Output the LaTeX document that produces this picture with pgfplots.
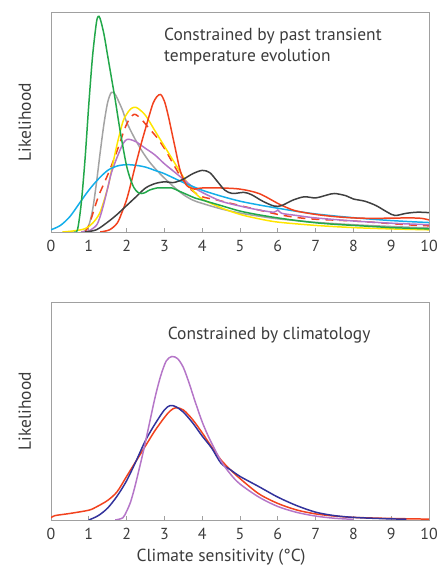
\documentclass[border=0pt]{standalone}
\usepackage{fontspec}
\setmainfont{PT Sans}
\usepackage{pgfplots}
\pgfplotsset{compat=1.18}

\definecolor{cgreen}{HTML}{22A84A}
\definecolor{clgray}{HTML}{A3A3A3}
\definecolor{cdgray}{HTML}{404040}
\definecolor{cyellow}{HTML}{FFE500}
\definecolor{cred}{HTML}{F2421E}
\definecolor{cpurple}{HTML}{B576C8}
\definecolor{ccyan}{HTML}{13AEEA}
\definecolor{cnavy}{HTML}{33339C}
\definecolor{ctext}{HTML}{3C3C3C}
\definecolor{cframe}{HTML}{A0A0A0}

\pgfplotsset{
  panel/.style={
    scale only axis,
    width=378bp,
    xmin=0, xmax=10, ymin=0, ymax=1,
    xtick={0,1,...,10},
    ytick=\empty,
    axis line style={cframe, line width=0.9pt},
    tick style={cframe, line width=0.7pt},
    tick align=inside,
    major tick length=3.5bp,
    xtick pos=bottom,
    /pgf/number format/assume math mode=true,
    tick label style={font=\fontsize{16}{19}\selectfont, text=ctext},
    xticklabel style={yshift=-5bp},
    label style={font=\fontsize{17.5}{21}\selectfont, text=ctext},
    ylabel={Likelihood},
    ylabel style={at={(axis description cs:-0.069,0.5)}, anchor=center},
    every axis plot/.append style={line width=1.5pt, smooth, no marks},
  }
}

\begin{document}
\begin{tikzpicture}
\begin{axis}[panel, height=220bp, at={(51bp,343bp)}, anchor=south west]

% hellgrau
\addplot[clgray] coordinates {
(0.8,0) (0.9,0.005) (1.0,0.03) (1.1,0.1) (1.2,0.22) (1.3,0.36) (1.4,0.49) (1.5,0.59)
(1.6,0.635) (1.7,0.625) (1.8,0.59) (1.9,0.55) (2.0,0.5) (2.2,0.43) (2.4,0.37) (2.6,0.32)
(2.8,0.28) (3.0,0.245) (3.25,0.205) (3.5,0.17) (3.75,0.145) (4.0,0.13) (4.5,0.105)
(5.0,0.086) (5.5,0.072) (6.0,0.06) (7.0,0.044) (8.0,0.033) (9.0,0.025) (10.0,0.018)
};

% rot gestrichelt
\addplot[cred, dash pattern=on 8pt off 6pt] coordinates {
(0.9,0) (1.0,0.03) (1.1,0.08) (1.25,0.16) (1.4,0.22) (1.55,0.28) (1.75,0.37) (2.0,0.49)
(2.2,0.535) (2.4,0.51) (2.6,0.47) (2.8,0.43) (3.0,0.38) (3.2,0.32) (3.4,0.26) (3.6,0.21)
(3.8,0.18) (4.0,0.16) (4.4,0.145) (5.0,0.12) (5.5,0.1) (6.0,0.08) (6.5,0.066)
(7.0,0.058) (8.0,0.05) (9.0,0.038) (9.5,0.032) (10.0,0.028)
};

% gelb
\addplot[cyellow] coordinates {
(0.3,0) (0.6,0.005) (0.9,0.015) (1.1,0.04) (1.3,0.09) (1.5,0.2) (1.6,0.28) (1.75,0.4)
(1.9,0.5) (2.0,0.535) (2.1,0.558) (2.2,0.567) (2.3,0.562) (2.5,0.53) (2.75,0.46)
(3.0,0.39) (3.25,0.32) (3.5,0.25) (3.75,0.19) (4.0,0.15) (4.5,0.11) (5.0,0.08)
(5.5,0.06) (6.0,0.045) (7.0,0.03) (8.0,0.02) (9.0,0.014) (10.0,0.01)
};

% lila
\addplot[cpurple] coordinates {
(0.8,0) (1.0,0.005) (1.2,0.03) (1.3,0.07) (1.4,0.13) (1.5,0.2) (1.6,0.27) (1.75,0.34)
(1.9,0.4) (2.0,0.42) (2.1,0.42) (2.25,0.41) (2.5,0.38) (2.75,0.35) (3.0,0.31)
(3.25,0.275) (3.5,0.24) (3.75,0.205) (4.0,0.18) (4.5,0.14) (5.0,0.118) (5.5,0.1)
(5.9,0.09) (6.0,0.1) (6.1,0.085) (6.5,0.075) (7.0,0.064) (8.0,0.05) (9.0,0.04) (10.0,0.033)
};

% cyan
\addplot[ccyan] coordinates {
(0,0.01) (0.25,0.03) (0.5,0.07) (0.75,0.13) (1.0,0.19) (1.25,0.24) (1.5,0.28)
(1.75,0.3) (2.0,0.306) (2.25,0.303) (2.5,0.295) (2.75,0.28) (3.0,0.265) (3.5,0.225)
(4.0,0.19) (4.5,0.163) (5.0,0.14) (5.5,0.123) (6.0,0.108) (6.5,0.094) (7.0,0.082)
(7.5,0.073) (8.0,0.065) (8.5,0.058) (9.0,0.052) (9.5,0.047) (10.0,0.043)
};

% rot
\addplot[cred] coordinates {
(1.3,0) (1.55,0.01) (1.75,0.04) (1.87,0.086) (2.0,0.147) (2.1,0.21) (2.2,0.28)
(2.3,0.345) (2.4,0.41) (2.5,0.47) (2.6,0.53) (2.7,0.585) (2.8,0.615) (2.9,0.625)
(3.0,0.595) (3.1,0.53) (3.2,0.45) (3.3,0.37) (3.4,0.29) (3.5,0.24) (3.6,0.21) (3.7,0.2)
(3.8,0.195) (4.0,0.2) (4.5,0.2) (5.0,0.195) (5.5,0.175) (6.0,0.13) (6.25,0.11)
(6.5,0.095) (7.0,0.08) (7.5,0.07) (8.0,0.064) (8.5,0.062) (9.0,0.063) (9.5,0.064)
(9.8,0.062) (10.0,0.055)
};

% dunkelgrau
\addplot[cdgray] coordinates {
(0.9,0) (1.2,0.01) (1.5,0.045) (1.75,0.08) (2.0,0.12) (2.25,0.16) (2.5,0.2)
(2.75,0.22) (3.0,0.228) (3.25,0.225) (3.5,0.24) (3.75,0.265) (4.0,0.28) (4.2,0.27)
(4.4,0.23) (4.6,0.19) (4.8,0.175) (5.1,0.18) (5.3,0.17) (5.6,0.14) (5.9,0.118)
(6.1,0.12) (6.4,0.145) (6.7,0.16) (7.0,0.155) (7.3,0.168) (7.5,0.175) (7.8,0.165)
(8.0,0.15) (8.3,0.14) (8.6,0.12) (8.9,0.09) (9.1,0.075) (9.4,0.085) (9.7,0.09) (10.0,0.088)
};

% gruen
\addplot[cgreen] coordinates {
(0.6,0) (0.7,0.01) (0.8,0.13) (0.9,0.33) (1.0,0.58) (1.1,0.8) (1.2,0.95) (1.25,0.98)
(1.3,0.97) (1.4,0.9) (1.5,0.8) (1.6,0.7) (1.7,0.6) (1.8,0.49) (1.9,0.39) (2.0,0.3)
(2.1,0.24) (2.2,0.2) (2.3,0.18) (2.4,0.175) (2.5,0.18) (2.6,0.19) (2.8,0.2) (3.0,0.2)
(3.2,0.2) (3.4,0.185) (3.6,0.17) (3.8,0.155) (4.0,0.145) (4.5,0.12) (5.0,0.095)
(5.5,0.078) (6.0,0.064) (6.5,0.052) (7.0,0.042) (7.5,0.035) (8.0,0.03) (8.5,0.025)
(9.0,0.02) (9.5,0.017) (10.0,0.014)
};

\node[anchor=north west, align=left, text=ctext, font=\fontsize{17.5}{22}\selectfont,
  inner sep=0pt] at (rel axis cs:0.299,0.93)
  {Constrained by past transient\\temperature evolution};
\end{axis}

\begin{axis}[panel, height=218bp, at={(51bp,55bp)}, anchor=south west,
  xlabel={Climate sensitivity (°C)},
  xlabel style={at={(axis description cs:0.45,0)}, anchor=center, yshift=-37bp}]

% rot
\addplot[cred] coordinates {
(0,0.01) (0.1,0.02) (0.5,0.03) (1.0,0.045) (1.2,0.06) (1.5,0.09) (1.75,0.13)
(2.0,0.2) (2.25,0.27) (2.5,0.34) (2.75,0.41) (3.0,0.47) (3.15,0.5) (3.3,0.515)
(3.5,0.505) (3.75,0.46) (4.0,0.4) (4.25,0.335) (4.5,0.275) (4.75,0.23) (5.0,0.19)
(5.5,0.12) (6.0,0.076) (6.5,0.046) (7.0,0.028) (7.5,0.018) (8.0,0.012) (9.0,0.007) (10.0,0.004)
};

% blau
\addplot[cnavy] coordinates {
(1.0,0) (1.25,0.02) (1.5,0.055) (1.75,0.11) (2.0,0.18) (2.25,0.27) (2.5,0.365)
(2.75,0.44) (3.0,0.505) (3.15,0.525) (3.3,0.52) (3.5,0.495) (3.75,0.445) (4.0,0.385)
(4.25,0.33) (4.5,0.26) (4.75,0.23) (5.0,0.2) (5.5,0.153) (6.0,0.105) (6.5,0.066)
(7.0,0.036) (7.5,0.02) (8.0,0.012) (8.5,0.008) (9.0,0.005) (9.4,0.004)
};

% lila
\addplot[cpurple] coordinates {
(1.7,0) (1.9,0.01) (2.0,0.04) (2.1,0.08) (2.2,0.14) (2.3,0.21) (2.45,0.32) (2.6,0.44)
(2.75,0.56) (2.9,0.66) (3.05,0.73) (3.2,0.75) (3.35,0.74) (3.5,0.7) (3.65,0.63)
(3.8,0.55) (4.0,0.45) (4.2,0.37) (4.5,0.27) (4.75,0.21) (5.0,0.165) (5.5,0.105)
(6.0,0.062) (6.5,0.035) (7.0,0.018) (7.5,0.008) (8.0,0.003)
};

\node[anchor=center, text=ctext, font=\fontsize{17.5}{21}\selectfont, inner sep=0pt]
  at (rel axis cs:0.577,0.849) {Constrained by climatology};
\end{axis}

\pgfresetboundingbox
\path[use as bounding box] (0,0) rectangle (438bp,575bp);
\end{tikzpicture}
\end{document}
